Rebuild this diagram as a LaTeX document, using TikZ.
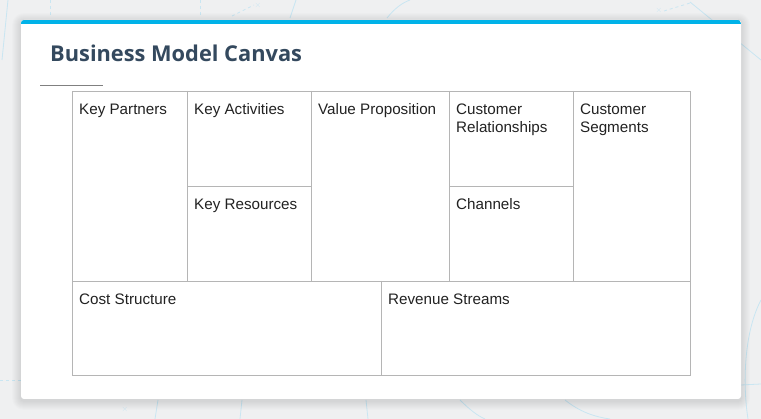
\documentclass[tikz,border=0pt]{standalone}
\usepackage{fontspec}
\setmainfont{Liberation Sans}
\newfontfamily\titlefont{Open Sans}
\definecolor{bgc}{HTML}{EFF0F1}
\definecolor{deco}{HTML}{C9E6F2}
\definecolor{topbar}{HTML}{00B2E8}
\definecolor{titlec}{HTML}{34495E}
\definecolor{gridc}{HTML}{B5B5B5}
\definecolor{labc}{HTML}{222222}
\tikzset{
  lab/.style={anchor=base west, inner sep=0pt, text=labc, font=\fontsize{15.2}{18}\selectfont, align=left},
  cell/.style={draw=gridc, line width=0.9pt},
  decoline/.style={draw=deco, line width=0.8pt},
  decox/.style={text=deco, font=\fontsize{8}{8}\selectfont, inner sep=0pt},
}
\begin{document}
\begin{tikzpicture}[x=1pt,y=-1pt]
\useasboundingbox (0,0) rectangle (761,419);
\fill[bgc] (0,0) rectangle (761,419);
% decorative background lines
\draw[decoline, dashed] (50,0) -- (50,18);
\draw[decoline, dashed] (200,0) -- (200,18);
\draw[decoline, dashed] (232,16) -- (254,5);
\draw[decoline] (290,18) -- (296,0);
\draw[decoline] (387,18) .. controls (395,8) and (402,3) .. (410,0);
\draw[decoline, dashed] (664,11) -- (690,3);
\draw[decoline] (690,2) -- (761,60);
\draw[decoline] (8,0) -- (2,60);
\draw[decoline, dashed] (0,380) -- (21,380);
\draw[decoline] (155,419) -- (158,400);
\draw[decoline] (240,419) -- (242,400);
\draw[decoline] (368,419) -- (366,400);
\draw[decoline] (460,400) .. controls (470,410) and (478,416) .. (485,419);
\draw[decoline] (565,400) .. controls (580,412) and (595,417) .. (610,419);
\draw[decoline] (761,300) .. controls (745,330) and (742,380) .. (748,419);
\draw[decoline] (741,385) -- (761,384);
\node[decox] (x1) at (125,410) {$\times$};
\node[decox] (x2) at (659,11) {$\times$};
\node[decox] (x3) at (258,6) {$\times$};
% card shadow
\foreach \s in {1,...,9} {
  \fill[black, opacity=0.012, rounded corners=3+\s] (21-\s,20-\s+2) rectangle (741+\s,399+\s+2);
}
% card
\fill[white, rounded corners=3] (21,20) rectangle (741,399);
\begin{scope}
  \clip[rounded corners=3] (21,20) rectangle (741,399);
  \fill[topbar] (21,20) rectangle (741,24.5);
\end{scope}
% title
\node[anchor=base west, inner sep=0pt, text=titlec, font=\titlefont\bfseries\fontsize{21.8}{26}\selectfont] (title) at (50,62) {Business Model Canvas};
\draw[draw=gray, line width=0.9pt] (40,85) -- (103,85);
% grid
\draw[cell] (72,91) rectangle (690,375);
\draw[cell] (72,281) -- (690,281);
\draw[cell] (187,91) -- (187,281);
\draw[cell] (311,91) -- (311,281);
\draw[cell] (449,91) -- (449,281);
\draw[cell] (573,91) -- (573,281);
\draw[cell] (187,186) -- (311,186);
\draw[cell] (449,186) -- (573,186);
\draw[cell] (381,281) -- (381,375);
% labels
\node[lab] (kp) at (79,114.5) {Key Partners};
\node[lab] (ka) at (194,114.5) {Key Activities};
\node[lab] (kr) at (194,209.5) {Key Resources};
\node[lab] (vp) at (318,114.5) {Value Proposition};
\node[lab] (cr) at (456,132.5) {Customer\\Relationships};
\node[lab] (ch) at (456,209.5) {Channels};
\node[lab] (cs) at (580,132.5) {Customer\\Segments};
\node[lab] (cost) at (79,304.5) {Cost Structure};
\node[lab] (rev) at (388,304.5) {Revenue Streams};
\end{tikzpicture}
\end{document}
